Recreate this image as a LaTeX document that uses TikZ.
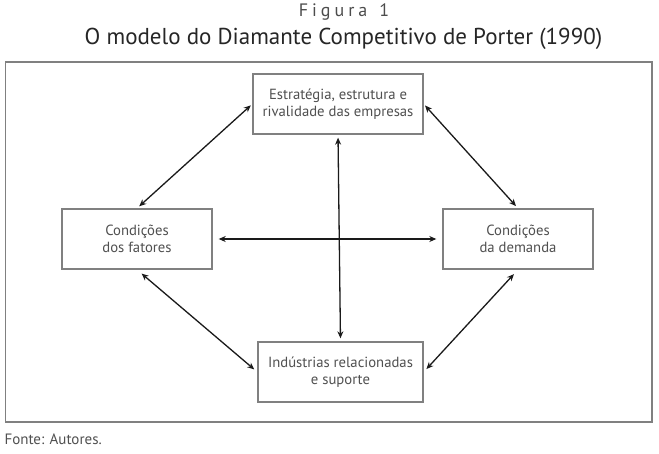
\documentclass[tikz,border=0pt]{standalone}
\usepackage{fontspec}
\setmainfont{PT Sans}
\usetikzlibrary{arrows.meta}
\definecolor{txt}{HTML}{505050}
\definecolor{frame}{HTML}{808080}
\definecolor{arr}{HTML}{1A1A1A}
\begin{document}
\begin{tikzpicture}[x=1pt,y=-1pt,
  box/.style={draw=frame,line width=1.4pt,minimum width=#1,minimum height=60pt,align=center,
    text=txt,font=\fontsize{14.7}{17.5}\selectfont,inner sep=0pt},
  conn/.style={arr,line width=1.3pt,{Stealth[length=7pt,width=6pt]}-{Stealth[length=7pt,width=6pt]}}]
\useasboundingbox (0,0) rectangle (659,453);
\fill[white] (0,0) rectangle (659,453);
\node[font=\fontsize{18}{20}\selectfont,text=black!70] (fig) at (344,11.5) {F\kern4pt i\kern4pt g\kern4pt u\kern4pt r\kern4pt a\kern12pt 1};
\node[font=\fontsize{23}{26}\selectfont,text=black!85] (title) at (343.5,38.5) {O modelo do Diamante Competitivo de Porter (1990)};
\draw[frame,line width=1.4pt] (5.5,62) rectangle (652,422);
\node[box=170pt] (top) at (338,104) {Estratégia, estrutura e\\rivalidade das empresas};
\node[box=150pt] (left) at (137,239) {Condições\\dos fatores};
\node[box=150pt] (right) at (518,239) {Condições\\da demanda};
\node[box=165pt] (bot) at (340.5,372) {Indústrias relacionadas\\e suporte};
\node[anchor=west,text=txt,font=\fontsize{15}{17}\selectfont] (src) at (1,439) {Fonte: Autores.};
\draw[conn,shorten <=3pt,shorten >=3pt] (top.south) -- (bot.north);
\draw[conn,shorten <=6pt,shorten >=6pt] (left.east) -- (right.west);
\draw[conn,shorten <=2pt,shorten >=3pt] (top.west) -- (left.north);
\draw[conn,shorten <=2pt,shorten >=3pt] (top.east) -- (right.north);
\draw[conn,shorten <=6pt,shorten >=4pt] (left.south) -- (bot.west);
\draw[conn,shorten <=6pt,shorten >=4pt] (right.south) -- (bot.east);
\end{tikzpicture}
\end{document}
